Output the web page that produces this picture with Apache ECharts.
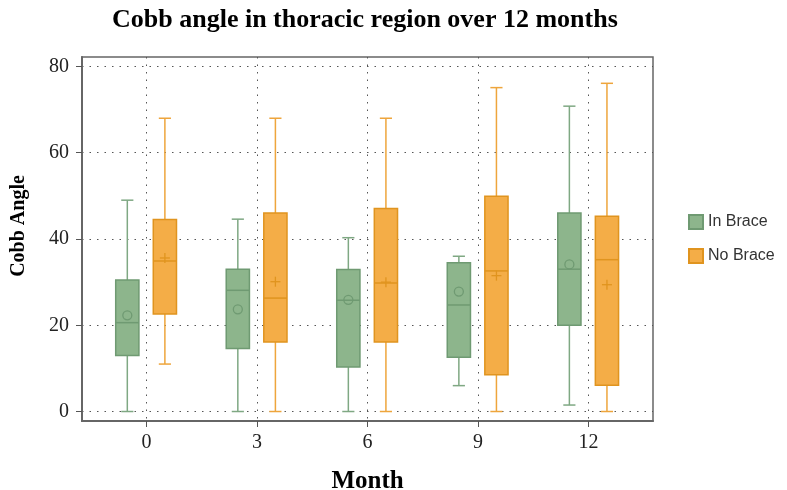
<!DOCTYPE html>
<html>
<head>
<meta charset="utf-8">
<script src="https://cdn.jsdelivr.net/npm/echarts@6/dist/echarts.min.js"></script>
<style>
html,body{margin:0;padding:0;background:#fff;}
#chart{width:787px;height:490px;}
</style>
</head>
<body>
<div id="chart"></div>
<script>
// Month categories and tick labels
const months = [0, 3, 6, 9, 12];
const yTicks = [0, 20, 40, 60, 80];

// In Brace: min, Q1, median, Q3, max, mean
const inBraceMin  = [0, 0, 0, 6, 1.5];
const inBraceQ1   = [13.0, 14.6, 10.3, 12.6, 20.0];
const inBraceMed  = [20.6, 28.1, 25.8, 24.7, 33.0];
const inBraceQ3   = [30.5, 33.0, 32.9, 34.5, 46.0];
const inBraceMax  = [49.0, 44.6, 40.3, 36.0, 70.8];
const inBraceMean = [22.3, 23.7, 25.9, 27.8, 34.1];

// No Brace
const noBraceMin  = [11.0, 0, 0, 0, 0];
const noBraceQ1   = [22.6, 16.1, 16.1, 8.5, 6.1];
const noBraceMed  = [34.9, 26.3, 29.8, 32.6, 35.2];
const noBraceQ3   = [44.5, 46.0, 47.1, 49.9, 45.3];
const noBraceMax  = [68.0, 68.0, 68.0, 75.1, 76.1];
const noBraceMean = [35.6, 30.1, 30.0, 31.5, 29.4];

function rows(mn, q1, md, q3, mx, mean) {
  return months.map((m, i) => [m, mn[i], q1[i], md[i], q3[i], mx[i], mean[i]]);
}

function makeRender(offsetUnits, fill, stroke, whisker, meanType) {
  return function (params, api) {
    const unit = api.size([1, 0])[0];
    const x = api.value(0) + offsetUnits;
    const pLo = api.coord([x, api.value(1)]);
    const pQ1 = api.coord([x, api.value(2)]);
    const pMd = api.coord([x, api.value(3)]);
    const pQ3 = api.coord([x, api.value(4)]);
    const pHi = api.coord([x, api.value(5)]);
    const pMn = api.coord([x, api.value(6)]);
    const cx = pMd[0];
    const hw = 0.315 * unit;
    const cap = 0.165 * unit;
    const ls = {stroke: whisker, lineWidth: 1.5};
    const children = [
      {type: 'line', shape: {x1: cx, y1: pHi[1], x2: cx, y2: pQ3[1]}, style: ls},
      {type: 'line', shape: {x1: cx, y1: pQ1[1], x2: cx, y2: pLo[1]}, style: ls},
      {type: 'line', shape: {x1: cx - cap, y1: pHi[1], x2: cx + cap, y2: pHi[1]}, style: ls},
      {type: 'line', shape: {x1: cx - cap, y1: pLo[1], x2: cx + cap, y2: pLo[1]}, style: ls},
      {type: 'rect', shape: {x: cx - hw, y: pQ3[1], width: 2 * hw, height: pQ1[1] - pQ3[1]},
        style: {fill: fill, stroke: stroke, lineWidth: 1.5}},
      {type: 'line', shape: {x1: cx - hw, y1: pMd[1], x2: cx + hw, y2: pMd[1]}, style: {stroke: stroke, lineWidth: 1.5}}
    ];
    if (meanType === 'circle') {
      children.push({type: 'circle', shape: {cx: cx, cy: pMn[1], r: 4.5}, style: {fill: 'none', stroke: stroke, lineWidth: 1.3}});
    } else {
      children.push({type: 'line', shape: {x1: cx - 5, y1: pMn[1], x2: cx + 5, y2: pMn[1]}, style: {stroke: stroke, lineWidth: 1.3}});
      children.push({type: 'line', shape: {x1: cx, y1: pMn[1] - 5, x2: cx, y2: pMn[1] + 5}, style: {stroke: stroke, lineWidth: 1.3}});
    }
    return {type: 'group', children: children};
  };
}

const green = {fill: '#8db58c', stroke: '#6f9a72', whisker: '#7fa883'};
const orange = {fill: '#f4ad47', stroke: '#e0941f', whisker: '#eea53c'};

const chart = echarts.init(document.getElementById('chart'));
chart.setOption({
  animation: false,
  title: {
    text: 'Cobb angle in thoracic region over 12 months',
    left: 107, top: 2,
    textStyle: {fontFamily: 'Liberation Serif', fontWeight: 'bold', fontSize: 26, color: '#000'}
  },
  legend: {
    orient: 'vertical', left: 683, top: 209, itemGap: 18,
    itemWidth: 14, itemHeight: 14, icon: 'rect',
    textStyle: {fontFamily: 'Liberation Sans', fontSize: 16, color: '#333'},
    data: ['In Brace', 'No Brace']
  },
  grid: {left: 82, right: 134, top: 57, bottom: 69, show: true, borderColor: '#666', borderWidth: 1.5,
    containLabel: false, outerBoundsMode: 'none'},
  xAxis: {
    type: 'value', min: -1.75, max: 13.75,
    name: 'Month', nameLocation: 'middle', nameGap: 48,
    nameTextStyle: {fontFamily: 'Liberation Serif', fontWeight: 'bold', fontSize: 25, color: '#000'},
    axisLine: {show: true, onZero: false, lineStyle: {color: '#666', width: 2}},
    axisTick: {show: true, length: 6, customValues: months, lineStyle: {color: '#555'}},
    axisLabel: {customValues: months, margin: 12, fontFamily: 'Liberation Serif', fontSize: 20, color: '#222'},
    splitLine: {show: true, lineStyle: {color: '#555', type: [1.5, 6], width: 1}}
  },
  yAxis: {
    type: 'value', min: -2.2, max: 82.2,
    name: 'Cobb Angle', nameLocation: 'middle', nameGap: 53,
    nameTextStyle: {fontFamily: 'Liberation Serif', fontWeight: 'bold', fontSize: 20, color: '#000',
      padding: [0, 0, 0, 26]},
    axisLine: {show: true, onZero: false, lineStyle: {color: '#666', width: 2}},
    axisTick: {show: true, length: 6, customValues: yTicks, lineStyle: {color: '#555'}},
    axisLabel: {customValues: yTicks, margin: 13, fontFamily: 'Liberation Serif', fontSize: 20, color: '#222'},
    splitLine: {show: true, lineStyle: {color: '#555', type: [1.5, 6], width: 1}}
  },
  series: [
    {
      name: 'In Brace', type: 'custom',
      itemStyle: {color: green.fill, borderColor: green.stroke, borderWidth: 1},
      renderItem: makeRender(-0.52, green.fill, green.stroke, green.whisker, 'circle'),
      encode: {x: 0, y: [1, 2, 3, 4, 5, 6]},
      data: rows(inBraceMin, inBraceQ1, inBraceMed, inBraceQ3, inBraceMax, inBraceMean)
    },
    {
      name: 'No Brace', type: 'custom',
      itemStyle: {color: orange.fill, borderColor: orange.stroke, borderWidth: 1},
      renderItem: makeRender(0.50, orange.fill, orange.stroke, orange.whisker, 'plus'),
      encode: {x: 0, y: [1, 2, 3, 4, 5, 6]},
      data: rows(noBraceMin, noBraceQ1, noBraceMed, noBraceQ3, noBraceMax, noBraceMean)
    }
  ]
});
</script>
</body>
</html>
